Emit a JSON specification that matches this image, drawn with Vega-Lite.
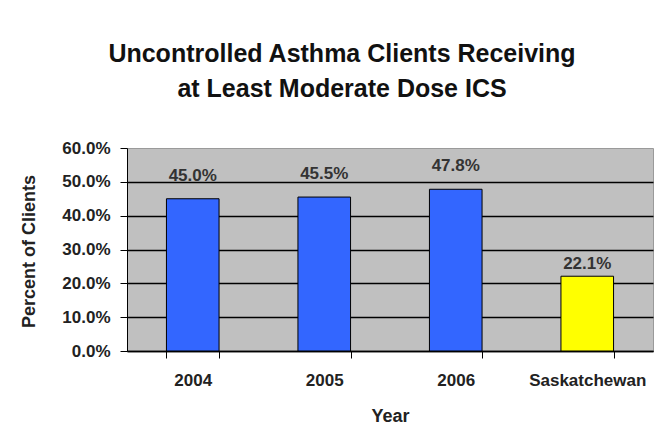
{
  "$schema": "https://vega.github.io/schema/vega-lite/v6.json",
  "width": 526,
  "height": 203,
  "autosize": {"type": "none"},
  "padding": {"left": 127, "top": 148, "right": 14, "bottom": 94},
  "background": "white",
  "title": {
    "text": ["Uncontrolled Asthma Clients Receiving", "at Least Moderate Dose ICS"],
    "font": "Liberation Sans",
    "fontSize": 25,
    "fontWeight": "bold",
    "color": "#111111",
    "lineHeight": 35,
    "anchor": "middle",
    "frame": "group",
    "dx": -48,
    "offset": 17,
    "baseline": "alphabetic"
  },
  "data": {
    "values": [
      {"category": "2004", "share": 0.450, "series": "Year"},
      {"category": "2005", "share": 0.455, "series": "Year"},
      {"category": "2006", "share": 0.478, "series": "Year"},
      {"category": "Saskatchewan", "share": 0.221, "series": "Province"}
    ]
  },
  "encoding": {
    "x": {
      "field": "category",
      "type": "nominal",
      "sort": null,
      "scale": {"paddingInner": 0.6, "paddingOuter": 0.3},
      "axis": {
        "title": "Year",
        "labelAngle": 0,
        "tickBand": "extent",
        "tickSize": 7,
        "tickColor": "#000000",
        "domainColor": "#000000",
        "domainWidth": 1.5,
        "labelFont": "Liberation Sans",
        "labelFontSize": 17,
        "labelFontWeight": "bold",
        "labelColor": "#222222",
        "labelPadding": 14,
        "titleFont": "Liberation Sans",
        "titleFontSize": 18,
        "titleFontWeight": "bold",
        "titleColor": "#222222",
        "titleBaseline": "middle",
        "titleY": 65
      }
    },
    "y": {
      "field": "share",
      "type": "quantitative",
      "scale": {"domain": [0, 0.6], "nice": false},
      "axis": {
        "title": "Percent of Clients",
        "values": [0, 0.1, 0.2, 0.3, 0.4, 0.5, 0.6],
        "format": ".1%",
        "grid": true,
        "gridColor": {"condition": {"test": "datum.value >= 0.59", "value": "transparent"}, "value": "#000000"},
        "gridWidth": 1.5,
        "gridOpacity": 1,
        "tickSize": 7,
        "tickColor": "#000000",
        "domainColor": "#000000",
        "labelFont": "Liberation Sans",
        "labelFontSize": 17,
        "labelFontWeight": "bold",
        "labelColor": "#222222",
        "labelPadding": 10,
        "titleFont": "Liberation Sans",
        "titleFontSize": 18,
        "titleFontWeight": "bold",
        "titleColor": "#222222",
        "titleAngle": -90,
        "titleAlign": "center",
        "titleBaseline": "middle",
        "titleX": -98,
        "titleY": 103
      }
    }
  },
  "layer": [
    {
      "mark": {"type": "bar", "stroke": "#000000", "strokeWidth": 1},
      "encoding": {
        "color": {
          "field": "series",
          "type": "nominal",
          "scale": {"domain": ["Year", "Province"], "range": ["#3366FF", "#FFFF00"]},
          "legend": null
        }
      }
    },
    {
      "transform": [{"filter": "datum.series === 'Year'"}],
      "mark": {"type": "text", "baseline": "middle", "dy": -23, "font": "Liberation Sans", "fontSize": 17, "fontWeight": "bold", "color": "#333333"},
      "encoding": {
        "text": {"field": "share", "type": "quantitative", "format": ".1%"}
      }
    },
    {
      "transform": [{"filter": "datum.series === 'Province'"}],
      "mark": {"type": "text", "baseline": "middle", "dy": -12, "font": "Liberation Sans", "fontSize": 17, "fontWeight": "bold", "color": "#333333"},
      "encoding": {
        "text": {"field": "share", "type": "quantitative", "format": ".1%"}
      }
    }
  ],
  "config": {
    "view": {"fill": "#C0C0C0", "stroke": "#9A9A9A", "strokeWidth": 1}
  }
}
